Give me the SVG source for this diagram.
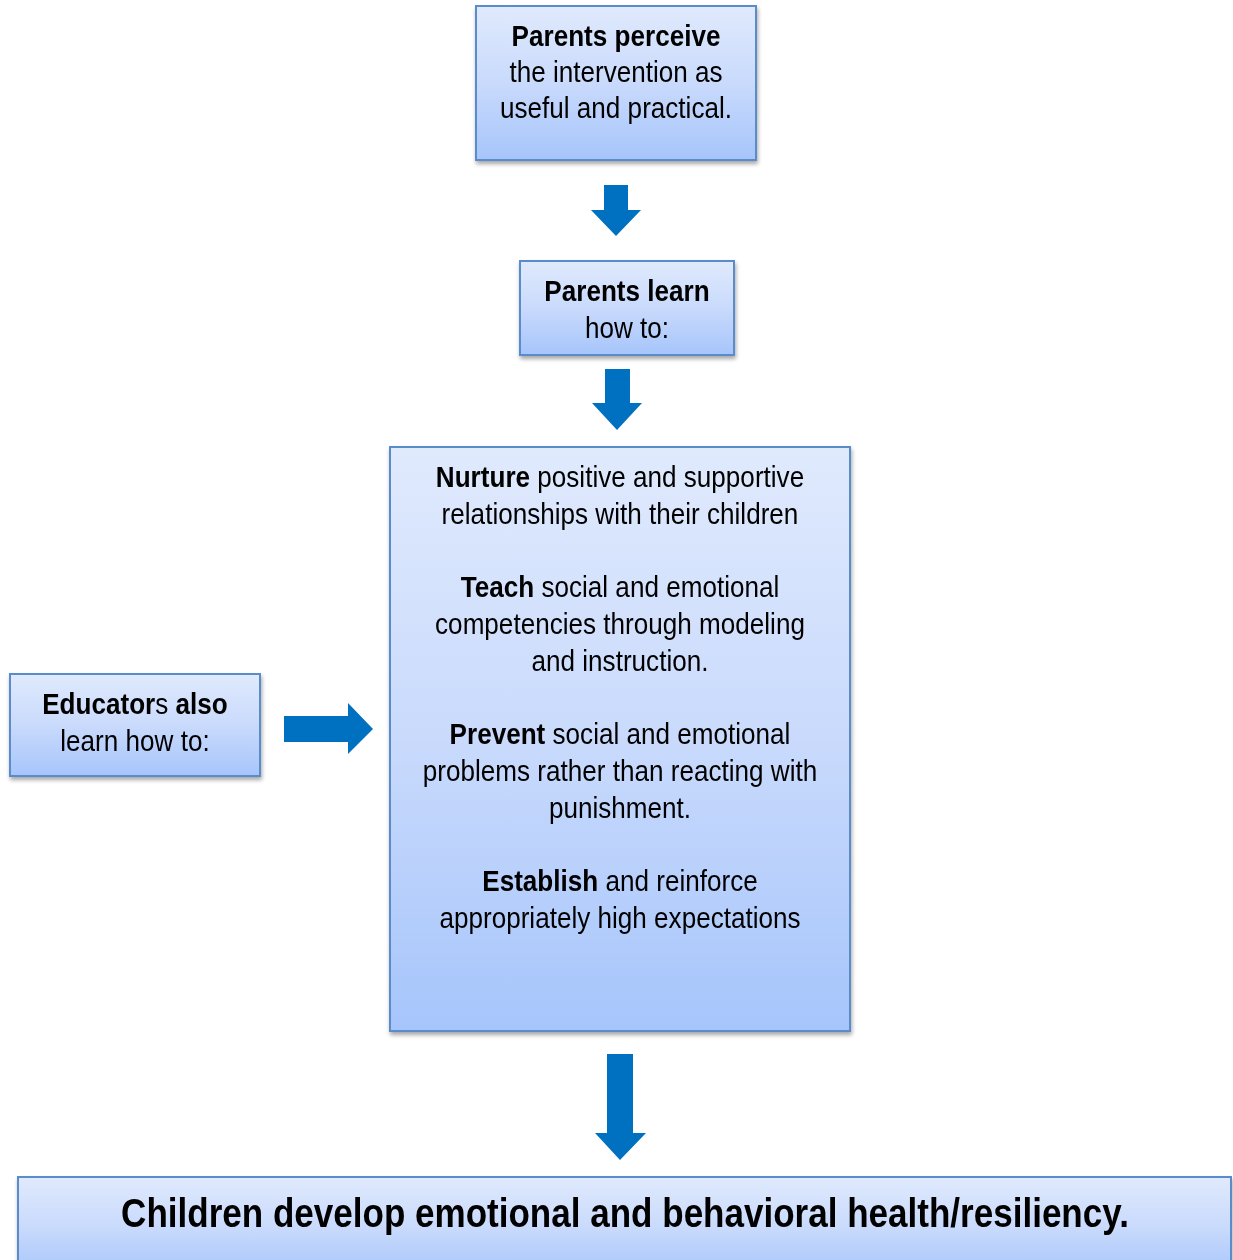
<svg xmlns="http://www.w3.org/2000/svg" width="1233" height="1260" viewBox="0 0 1233 1260">
<style>
.box{stroke:#5a8bcb;stroke-width:2;fill:url(#g)}
text{font-family:"Liberation Sans",Arial,sans-serif;font-size:29px;fill:#000;text-anchor:middle}
.b{font-weight:bold}
.arr{fill:#0070c0}
</style>
<defs>
<linearGradient id="g" x1="0" y1="0" x2="0" y2="1">
<stop offset="0" stop-color="#e0eafd"/>
<stop offset="0.5" stop-color="#c9dafc"/>
<stop offset="1" stop-color="#a6c5fb"/>
</linearGradient>
<filter id="sh" x="-10%" y="-10%" width="120%" height="130%">
<feGaussianBlur in="SourceAlpha" stdDeviation="2"/>
<feOffset dx="1" dy="3" result="o"/>
<feComponentTransfer><feFuncA type="linear" slope="0.35"/></feComponentTransfer>
<feMerge><feMergeNode/><feMergeNode in="SourceGraphic"/></feMerge>
</filter>
</defs>
<rect width="1233" height="1260" fill="#fff"/>
<g id="connectors">
<polygon class="arr" points="604,185 628,185 628,210 641,210 616,236 591,210 604,210"/>
<polygon class="arr" points="605,369 630,369 630,403 642,403 617,430 592,403 605,403"/>
<polygon class="arr" points="284,716 348,716 348,703 373,729 348,754 348,742 284,742"/>
<polygon class="arr" points="607,1054 633,1054 633,1133 646,1133 620,1160 595,1133 607,1133"/>
</g>
<g id="n1" filter="url(#sh)">
<rect class="box" x="476" y="6" width="280" height="154"/>
<g transform="matrix(0.9 0 0 1 61.6 0)">
<text x="616" y="46" class="b">Parents perceive</text>
<text x="616" y="82">the intervention as</text>
<text x="616" y="118">useful and practical.</text>
</g>
</g>
<g id="n2" filter="url(#sh)">
<rect class="box" x="520" y="261" width="214" height="94"/>
<g transform="matrix(0.9 0 0 1 62.7 0)">
<text x="627" y="301" class="b">Parents learn</text>
<text x="627" y="338">how to:</text>
</g>
</g>
<g id="n3" filter="url(#sh)">
<rect class="box" x="390" y="447" width="460" height="584"/>
<g transform="matrix(0.9 0 0 1 62 0)">
<text x="620" y="487"><tspan class="b">Nurture</tspan> positive and supportive</text>
<text x="620" y="524">relationships with their children</text>
<text x="620" y="597"><tspan class="b">Teach</tspan> social and emotional</text>
<text x="620" y="634">competencies through modeling</text>
<text x="620" y="671">and instruction.</text>
<text x="620" y="744"><tspan class="b">Prevent</tspan> social and emotional</text>
<text x="620" y="781">problems rather than reacting with</text>
<text x="620" y="818">punishment.</text>
<text x="620" y="891"><tspan class="b">Establish</tspan> and reinforce</text>
<text x="620" y="928">appropriately high expectations</text>
</g>
</g>
<g id="n4" filter="url(#sh)">
<rect class="box" x="10" y="674" width="250" height="102"/>
<g transform="matrix(0.9 0 0 1 13.5 0)">
<text x="135" y="714"><tspan class="b">Educator</tspan>s<tspan class="b"> also</tspan></text>
<text x="135" y="751">learn how to:</text>
</g>
</g>
<g id="n5" filter="url(#sh)">
<rect class="box" x="18" y="1177" width="1213" height="100"/>
<g transform="matrix(0.876 0 0 1 77.5 0)">
<text x="625" y="1227" class="b" style="font-size:40px">Children develop emotional and behavioral health/resiliency.</text>
</g>
</g>
</svg>
